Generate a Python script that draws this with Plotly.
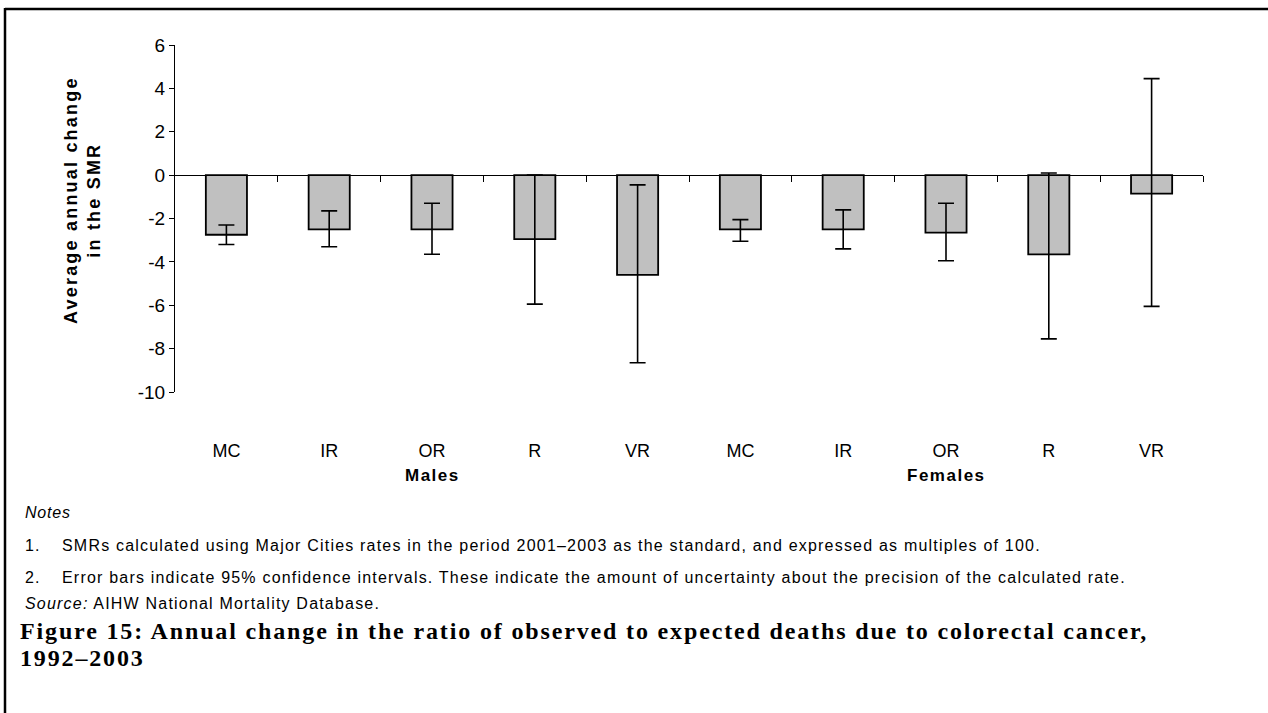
import plotly.graph_objects as go

# ---- data ----
categories = ["MC", "IR", "OR", "R", "VR", "MC", "IR", "OR", "R", "VR"]
groups = ["Males", "Females"]
values = [-2.75, -2.5, -2.5, -2.95, -4.6, -2.5, -2.5, -2.65, -3.65, -0.85]
ci_upper = [-2.3, -1.65, -1.3, 0.0, -0.45, -2.05, -1.6, -1.3, 0.1, 4.45]
ci_lower = [-3.2, -3.3, -3.65, -5.95, -8.65, -3.05, -3.4, -3.95, -7.55, -6.05]
y_ticks = [-10, -8, -6, -4, -2, 0, 2, 4, 6]
y_tick_labels = ["-10", "-8", "-6", "-4", "-2", "0", "2", "4", "6"]

W, H = 1268, 713
L, R, T, B = 175, 1203, 45, 392

def px(x):
    return (x - L) / (R - L)

def py(y):
    return (B - y) / (B - T)

def spaced(text, sp):
    return '<span style="letter-spacing:%spx">%s</span>' % (sp, text)

xs = list(range(len(categories)))
err_plus = [u - v for u, v in zip(ci_upper, values)]
err_minus = [v - l for v, l in zip(values, ci_lower)]

fig = go.Figure()
fig.add_trace(go.Bar(
    x=xs, y=values,
    marker=dict(color="#c0c0c0", line=dict(color="#000000", width=1.8)),
    error_y=dict(type="data", symmetric=False, array=err_plus, arrayminus=err_minus,
                 color="#000000", thickness=1.6, width=8),
    width=0.4,
    hoverinfo="skip",
    xaxis="x", yaxis="y",
))
fig.add_trace(go.Scatter(
    x=xs, y=values, mode="markers", marker=dict(opacity=0),
    xaxis="x2", yaxis="y", hoverinfo="skip", showlegend=False,
))

font_sans = "Liberation Sans, Arial, sans-serif"

annotations = []
# group labels
for gi, g in enumerate(groups):
    cx = gi * 5 + 2
    annotations.append(dict(
        x=cx, xref="x", y=py(475), yref="paper", text="<b>%s</b>" % spaced(g, 1.5),
        showarrow=False, font=dict(family=font_sans, size=17, color="#000"),
        xanchor="center", yanchor="middle"))
# y-axis title
annotations.append(dict(
    x=px(83), xref="paper", y=py(200), yref="paper",
    text="<b>%s<br>%s</b>" % (spaced("Average annual change", 2.2), spaced("in the SMR", 2.2)),
    textangle=-90,
    showarrow=False, font=dict(family=font_sans, size=18, color="#000"),
    xanchor="center", yanchor="middle"))

note_font = dict(family=font_sans, size=16, color="#000")
def left_text(x, y, text, font):
    annotations.append(dict(x=px(x), xref="paper", y=py(y), yref="paper", text=text,
                            showarrow=False, font=font, xanchor="left", yanchor="middle",
                            align="left"))

left_text(23, 512, spaced("<i>Notes</i>", 0.8), note_font)
left_text(23, 545, spaced("1.", 1.2), note_font)
left_text(60, 545, spaced("SMRs calculated using Major Cities rates in the period 2001\u20132003 as the standard, and expressed as multiples of 100.", 1.2), note_font)
left_text(23, 577, spaced("2.", 1.2), note_font)
left_text(60, 577, spaced("Error bars indicate 95% confidence intervals. These indicate the amount of uncertainty about the precision of the calculated rate.", 1.2), note_font)
left_text(23, 603, spaced("<i>Source:</i> AIHW National Mortality Database.", 1.2), note_font)

title_font = dict(family="Liberation Serif, serif", size=24, color="#000")
left_text(18, 631, "<b>%s</b>" % spaced("Figure 15: Annual change in the ratio of observed to expected deaths due to colorectal cancer,", 1.85), title_font)
left_text(18, 658, "<b>%s</b>" % spaced("1992\u20132003", 1.85), title_font)

shapes = [
    dict(type="line", xref="paper", yref="paper", x0=px(5), x1=px(1268), y0=py(9), y1=py(9),
         line=dict(color="#000", width=2.5)),
    dict(type="line", xref="paper", yref="paper", x0=px(5), x1=px(5), y0=py(8), y1=py(713),
         line=dict(color="#000", width=2.5)),
]

zero_pos = (0 - y_ticks[0]) / (y_ticks[-1] - y_ticks[0])
boundaries = [i + 0.5 for i in xs]

fig.update_layout(
    width=W, height=H, autosize=False,
    margin=dict(l=L, r=W - R, t=T, b=H - B),
    paper_bgcolor="white", plot_bgcolor="white",
    showlegend=False,
    bargap=0.6,
    xaxis=dict(range=[-0.5, len(xs) - 0.5], anchor="free", position=zero_pos,
               showline=True, linecolor="#000", linewidth=1,
               ticks="outside", tickvals=boundaries, ticklen=6, tickcolor="#000", tickwidth=1,
               showticklabels=False, showgrid=False, zeroline=False, fixedrange=True),
    xaxis2=dict(range=[-0.5, len(xs) - 0.5], overlaying="x", anchor="y", side="bottom",
                tickvals=xs, ticktext=categories, showline=False, ticks="",
                showgrid=False, zeroline=False, ticklabelstandoff=46,
                tickfont=dict(family=font_sans, size=18, color="#000")),
    yaxis=dict(range=[y_ticks[0], y_ticks[-1]], tickvals=y_ticks, ticktext=y_tick_labels,
               showline=True, linecolor="#000", linewidth=1, ticks="outside", ticklen=5,
               tickcolor="#000", showgrid=False, zeroline=False,
               tickfont=dict(family=font_sans, size=19, color="#000")),
    annotations=annotations,
    shapes=shapes,
)

fig.write_html("out.html", config={"displayModeBar": False},
               post_script="document.body.style.margin='0';document.body.style.overflow='hidden';")
